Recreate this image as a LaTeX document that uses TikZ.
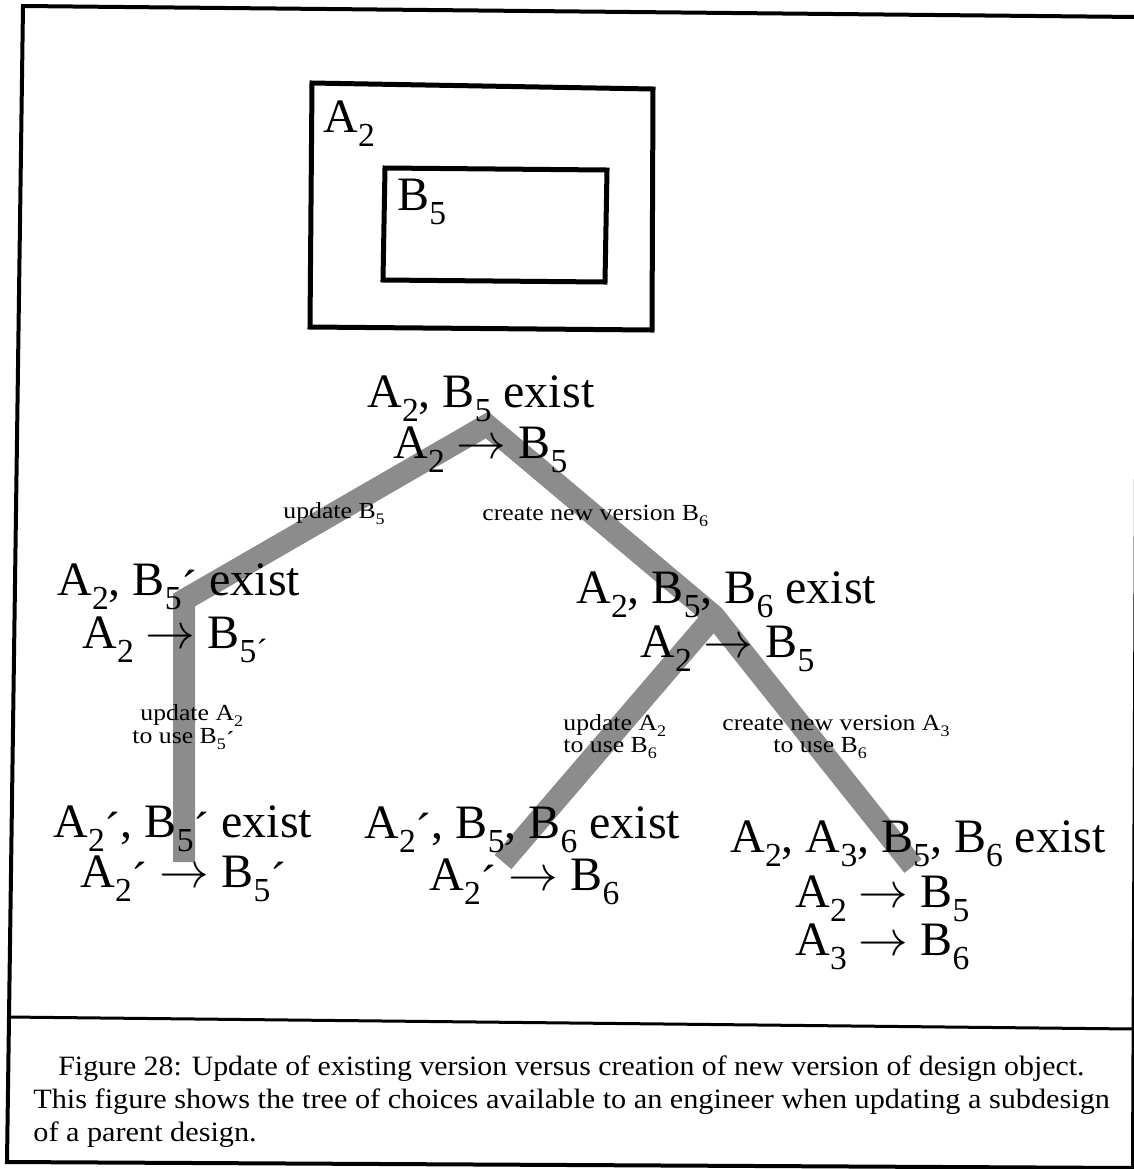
\documentclass[tikz,border=0pt]{standalone}
\usepackage{fontspec}
\setmainfont{Liberation Serif}
\newfontfamily\smallrm[FakeStretch=1.12]{Liberation Serif}
\newfontfamily\capArm[FakeStretch=1.065]{Liberation Serif}
\newfontfamily\capBrm[FakeStretch=1.08]{Liberation Serif}
\usepackage{graphicx}
\newcommand\ssub[1]{\raisebox{-0.3em}{\scalebox{0.7}{#1}}}
\newcommand\prm{\raisebox{-0.18em}{´}}
\newcommand\bigf{\fontsize{24}{28}\selectfont}
\newcommand\smallf{\smallrm\fontsize{11.5}{13}\selectfont}
\newcommand\capAf{\capArm\fontsize{14}{16}\selectfont}
\newcommand\capBf{\capBrm\fontsize{14}{16}\selectfont}
\tikzset{
  frameline/.style={line width=2pt, black},
  boxline/.style={line width=2.5pt, black, line join=miter},
  lbl/.style={anchor=base west, inner sep=0pt, font=\bigf},
  sml/.style={anchor=base west, inner sep=0pt, font=\smallf},
  captextA/.style={anchor=base west, inner sep=0pt, font=\capAf},
  captextB/.style={anchor=base west, inner sep=0pt, font=\capBf},
  band/.style={line width=11pt, black!45, line join=miter}
}
\begin{document}
\begin{tikzpicture}[x=0.5pt, y=-0.5pt]
\useasboundingbox (0,0) rectangle (1134,1169);
\fill[white] (0,0) rectangle (1134,1169);

% outer frame and caption separator
\coordinate (fTL) at (23,6);
\coordinate (fTR) at (1138,17);
\coordinate (fBR) at (1133,1168);
\coordinate (fBL) at (7,1162);
\draw[frameline] (fTL) -- (fTR) -- (fBR) -- (fBL) -- cycle;
\coordinate (sepL) at (8,1017);
\coordinate (sepR) at (1134,1029);
\draw[line width=1.5pt] (sepL) -- (sepR);

% nested boxes
\coordinate (aTL) at (312,83);
\coordinate (aTR) at (653,89);
\coordinate (aBR) at (652,330);
\coordinate (aBL) at (310,327);
\draw[boxline] (aTL) -- (aTR) -- (aBR) -- (aBL) -- cycle;
\coordinate (bTL) at (385,168);
\coordinate (bTR) at (607,170);
\coordinate (bBR) at (605,282);
\coordinate (bBL) at (383,280);
\draw[boxline] (bTL) -- (bTR) -- (bBR) -- (bBL) -- cycle;
\node[lbl] (boxA) at (323,132) {A\ssub{2}};
\node[lbl] (boxB) at (397,210) {B\ssub{5}};

% decision paths (grey bands)
\coordinate (apex) at (487,425);
\coordinate (lcorner) at (184,600);
\coordinate (lend) at (184,862);
\coordinate (junc) at (714,616);
\coordinate (rend) at (913,866);
\coordinate (mend) at (503,862);
\draw[band] (lend) -- (lcorner) -- (apex) -- (junc) -- (rend);
\draw[band] (junc) -- (mend);

% tree nodes
\node[lbl] (t1) at (367,407) {A\ssub{2}, B\ssub{5} exist};
\node[lbl] (t2) at (393,458) {A\ssub{2} $\rightarrow$ B\ssub{5}};

\node[lbl] (l1) at (57,595) {A\ssub{2}, B\ssub{5}\prm{} exist};
\node[lbl] (l2) at (82,648) {A\ssub{2} $\rightarrow$ B\ssub{5´}};

\node[lbl] (m1) at (576,603) {A\ssub{2}, B\ssub{5}, B\ssub{6} exist};
\node[lbl] (m2) at (640,657) {A\ssub{2} $\rightarrow$ B\ssub{5}};

\node[lbl] (bl1) at (53,837) {A\ssub{2}\prm, B\ssub{5}\prm{} exist};
\node[lbl] (bl2) at (80,887) {A\ssub{2}\prm{} $\rightarrow$ B\ssub{5}\prm};

\node[lbl] (bm1) at (364,838) {A\ssub{2}\prm, B\ssub{5}, B\ssub{6} exist};
\node[lbl] (bm2) at (429,890) {A\ssub{2}\prm{} $\rightarrow$ B\ssub{6}};

\node[lbl] (br1) at (730,852) {A\ssub{2}, A\ssub{3}, B\ssub{5}, B\ssub{6} exist};
\node[lbl] (br2) at (795,907) {A\ssub{2} $\rightarrow$ B\ssub{5}};
\node[lbl] (br3) at (795,955) {A\ssub{3} $\rightarrow$ B\ssub{6}};

% edge labels
\node[sml] (e1) at (283,518) {update B\ssub{5}};
\node[sml] (e2) at (482,520) {create new version B\ssub{6}};
\node[sml] (e3a) at (140,720) {update A\ssub{2}};
\node[sml] (e3b) at (132,743) {to use B\ssub{5}\prm};
\node[sml] (e4a) at (563,730) {update A\ssub{2}};
\node[sml] (e4b) at (563,752) {to use B\ssub{6}};
\node[sml] (e5a) at (722,730) {create new version A\ssub{3}};
\node[sml] (e5b) at (773,752) {to use B\ssub{6}};

% caption
\node[captextA] (c1) at (58,1075) {Figure 28: Update of existing version versus creation of new version of design object.};
\node[captextB] (c2) at (33,1108) {This figure shows the tree of choices available to an engineer when updating a subdesign};
\node[captextB] (c3) at (33,1141) {of a parent design.};
\end{tikzpicture}
\end{document}
